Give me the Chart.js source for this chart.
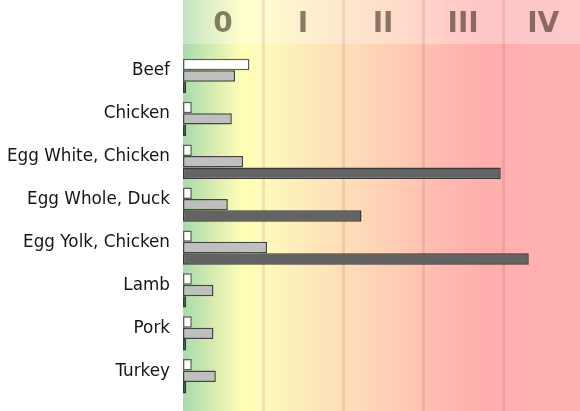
<!DOCTYPE html>
<html>
<head>
<meta charset="utf-8">
<script src="https://cdn.jsdelivr.net/npm/chart.js@4"></script>
<style>
html,body{margin:0;padding:0;background:#fff;overflow:hidden;}
#wrap{width:580px;height:411px;position:relative;}
</style>
</head>
<body>
<div id="wrap"><canvas id="c" width="580" height="411"></canvas></div>
<script>
const categories = ["Beef","Chicken","Egg White, Chicken","Egg Whole, Duck","Egg Yolk, Chicken","Lamb","Pork","Turkey"];
const seriesWhite = [0.83,0.11,0.11,0.11,0.11,0.11,0.11,0.11];
const seriesGray  = [0.65,0.61,0.75,0.56,1.05,0.38,0.38,0.41];
const seriesDark  = [0.04,0.04,3.97,2.23,4.32,0.04,0.04,0.04];
const classLabels = ["0","I","II","III","IV"];
const xMax = 4.96;

const bgPlugin = {
  id: 'bg',
  beforeDraw(chart) {
    const {ctx, chartArea, scales} = chart;
    const xs = scales.x;
    const x0 = xs.getPixelForValue(0);
    const x5 = xs.getPixelForValue(5);
    const H = chart.height;
    const g = ctx.createLinearGradient(x0, 0, x5, 0);
    g.addColorStop(0.00, 'rgb(168,218,172)');
    g.addColorStop(0.07, 'rgb(212,234,176)');
    g.addColorStop(0.15, 'rgb(255,255,182)');
    g.addColorStop(0.20, 'rgb(255,250,186)');
    g.addColorStop(0.32, 'rgb(253,232,186)');
    g.addColorStop(0.42, 'rgb(254,220,184)');
    g.addColorStop(0.55, 'rgb(255,203,180)');
    g.addColorStop(0.66, 'rgb(255,184,176)');
    g.addColorStop(0.76, 'rgb(255,174,174)');
    g.addColorStop(1.00, 'rgb(255,178,178)');
    ctx.save();
    ctx.fillStyle = g;
    ctx.fillRect(x0, 0, chartArea.right - x0, H);
    const headerH = 44;
    ctx.fillStyle = 'rgba(255,255,255,0.3)';
    ctx.fillRect(x0, 0, chartArea.right - x0, headerH);
    ctx.strokeStyle = 'rgba(130,80,60,0.13)';
    ctx.lineWidth = 3;
    for (let i = 1; i < classLabels.length; i++) {
      const px = Math.round(xs.getPixelForValue(i)) + 0.5;
      ctx.beginPath();
      ctx.moveTo(px, 0);
      ctx.lineTo(px, H);
      ctx.stroke();
    }
    ctx.fillStyle = 'rgba(45,25,15,0.55)';
    ctx.font = 'bold 28px "DejaVu Sans"';
    ctx.textAlign = 'center';
    ctx.textBaseline = 'middle';
    classLabels.forEach((t, i) => {
      ctx.fillText(t, xs.getPixelForValue(i + 0.5), 25);
    });
    ctx.restore();
  }
};

new Chart(document.getElementById('c'), {
  type: 'bar',
  data: {
    labels: categories,
    datasets: [
      {data: seriesWhite, backgroundColor: '#ffffff', borderColor: '#5e5e5e'},
      {data: seriesGray, backgroundColor: '#bfbfbf', borderColor: '#444444'},
      {data: seriesDark, backgroundColor: '#636363', borderColor: '#383838'}
    ]
  },
  options: {
    indexAxis: 'y',
    responsive: false,
    animation: false,
    devicePixelRatio: 1,
    datasets: {
      bar: {
        borderWidth: 1.5,
        borderSkipped: false,
        categoryPercentage: 0.8,
        barPercentage: 1.0
      }
    },
    layout: {padding: {top: 54.5, bottom: 13.3, left: 0, right: 0}},
    plugins: {legend: {display: false}, tooltip: {enabled: false}},
    scales: {
      x: {
        display: false,
        min: 0,
        max: xMax
      },
      y: {
        grid: {display: false, drawTicks: false},
        border: {display: false},
        ticks: {
          color: '#151515',
          font: {family: '"DejaVu Sans"', size: 16.8},
          padding: 13,
          labelOffset: -5
        },
        afterFit(scale) {
          scale.width = 183;
          scale.paddingTop = 0;
          scale.paddingBottom = 0;
        }
      }
    }
  },
  plugins: [bgPlugin]
});
</script>
</body>
</html>
